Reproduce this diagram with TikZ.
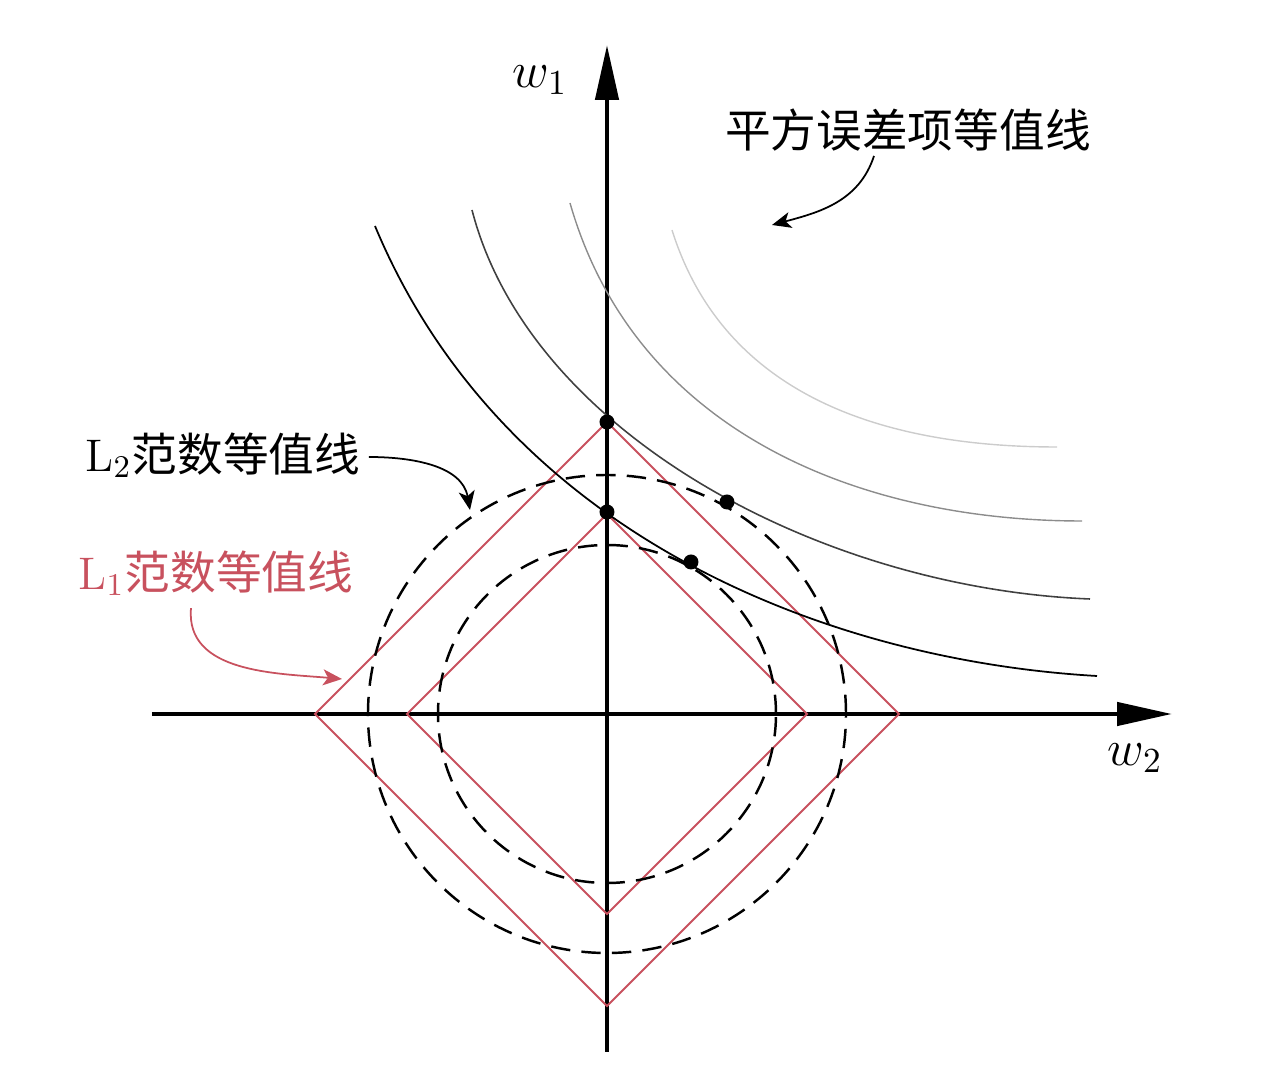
\documentclass[tikz,border=0pt]{standalone}
\usepackage{fontspec}
\newfontfamily\cjk{Noto Sans CJK SC}
\usepackage{tikz}
\usetikzlibrary{arrows.meta,calc}
\usepackage{xcolor}
\definecolor{colorc8515e}{HTML}{c8515e}

\begin{document}
\begin{tikzpicture}
    [>={Stealth[length=1.9mm,width=1.6mm,inset=0.5mm]},  % Uniform arrow style
     axis/.style={draw=black,line width=1.3pt,-{Triangle[length=5.5mm,width=2.3mm]}},
     l1line/.style={draw=colorc8515e,line width=0.6pt},
     l2line/.style={draw=black,line width=0.7pt,dash pattern=on 5.5pt off 3.2pt},
     contour/.style={line width=0.5pt},
     label/.style={font=\fontsize{13}{15}\selectfont,inner sep=0pt},
    ]

\useasboundingbox (-6.07,-3.60) rectangle (6.57,7.14);

% axes
\draw[axis] (-4.55,0) -- (5.65,0);
\draw[axis] (0,-3.38) -- (0,6.69);
\node[label,font=\Large] (node_w1) at (-0.67,6.34) {$w_1$};
\node[label,font=\Large] (node_w2) at (5.28,-0.44) {$w_2$};

% L1 and L2 contours
\draw[l1line] (-2.92,0) -- (0,2.92) -- (2.92,0) -- (0,-2.92) -- cycle;
\draw[l1line] (-2,0) -- (0,2) -- (2,0) -- (0,-2) -- cycle;
\draw[l2line] (0,0) circle (2.39);
\draw[l2line] (0,0) circle (1.69);

% squared error contours
\draw[contour,draw=black] (-2.32,4.88) .. controls (-1.05,1.834) and (2.13,0.54) .. (4.90,0.38);
\draw[contour,draw=black!75,line width=0.45pt] (-1.35,5.04) .. controls (-0.775,2.814) and (2.13,1.258) .. (4.83,1.15);
\draw[contour,draw=black!45,line width=0.4pt] (-0.37,5.11) .. controls (0.29,2.804) and (2.55,1.93) .. (4.75,1.93);
\draw[contour,draw=black!20,line width=0.4pt] (0.65,4.84) .. controls (1.16,3.218) and (2.70,2.67) .. (4.50,2.67);

% touching points
\fill (0,2.92) circle (0.075);
\fill (0,2.02) circle (0.075);
\fill (1.20,2.12) circle (0.075);
\fill (0.84,1.52) circle (0.075);

% labels
\node[label] (node_sq) at (3.01,5.84) {\cjk 平方误差项等值线};
\node[label,anchor=west] (node_l2) at (-5.22,2.59) {L$_2${\cjk 范数等值线}};
\node[label,anchor=west,text=colorc8515e] (node_l1) at (-5.29,1.41) {L$_1${\cjk 范数等值线}};

\coordinate (sq_tip) at (1.65,4.89);
\coordinate (l2_tip) at (-1.37,2.04);
\coordinate (l1_tip) at (-2.65,0.35);

\draw[->,line width=0.5pt] ($(node_sq.south)+(-0.34,-0.04)$) to[out=-108,in=15] (sq_tip);
\draw[->,line width=0.5pt] ($(node_l2.east)+(0.08,-0.02)$) to[out=0,in=100] (l2_tip);
\draw[->,line width=0.5pt,draw=colorc8515e] ($(node_l1.south west)+(1.13,-0.12)$) to[out=-95,in=175] (l1_tip);

\end{tikzpicture}
\end{document}
